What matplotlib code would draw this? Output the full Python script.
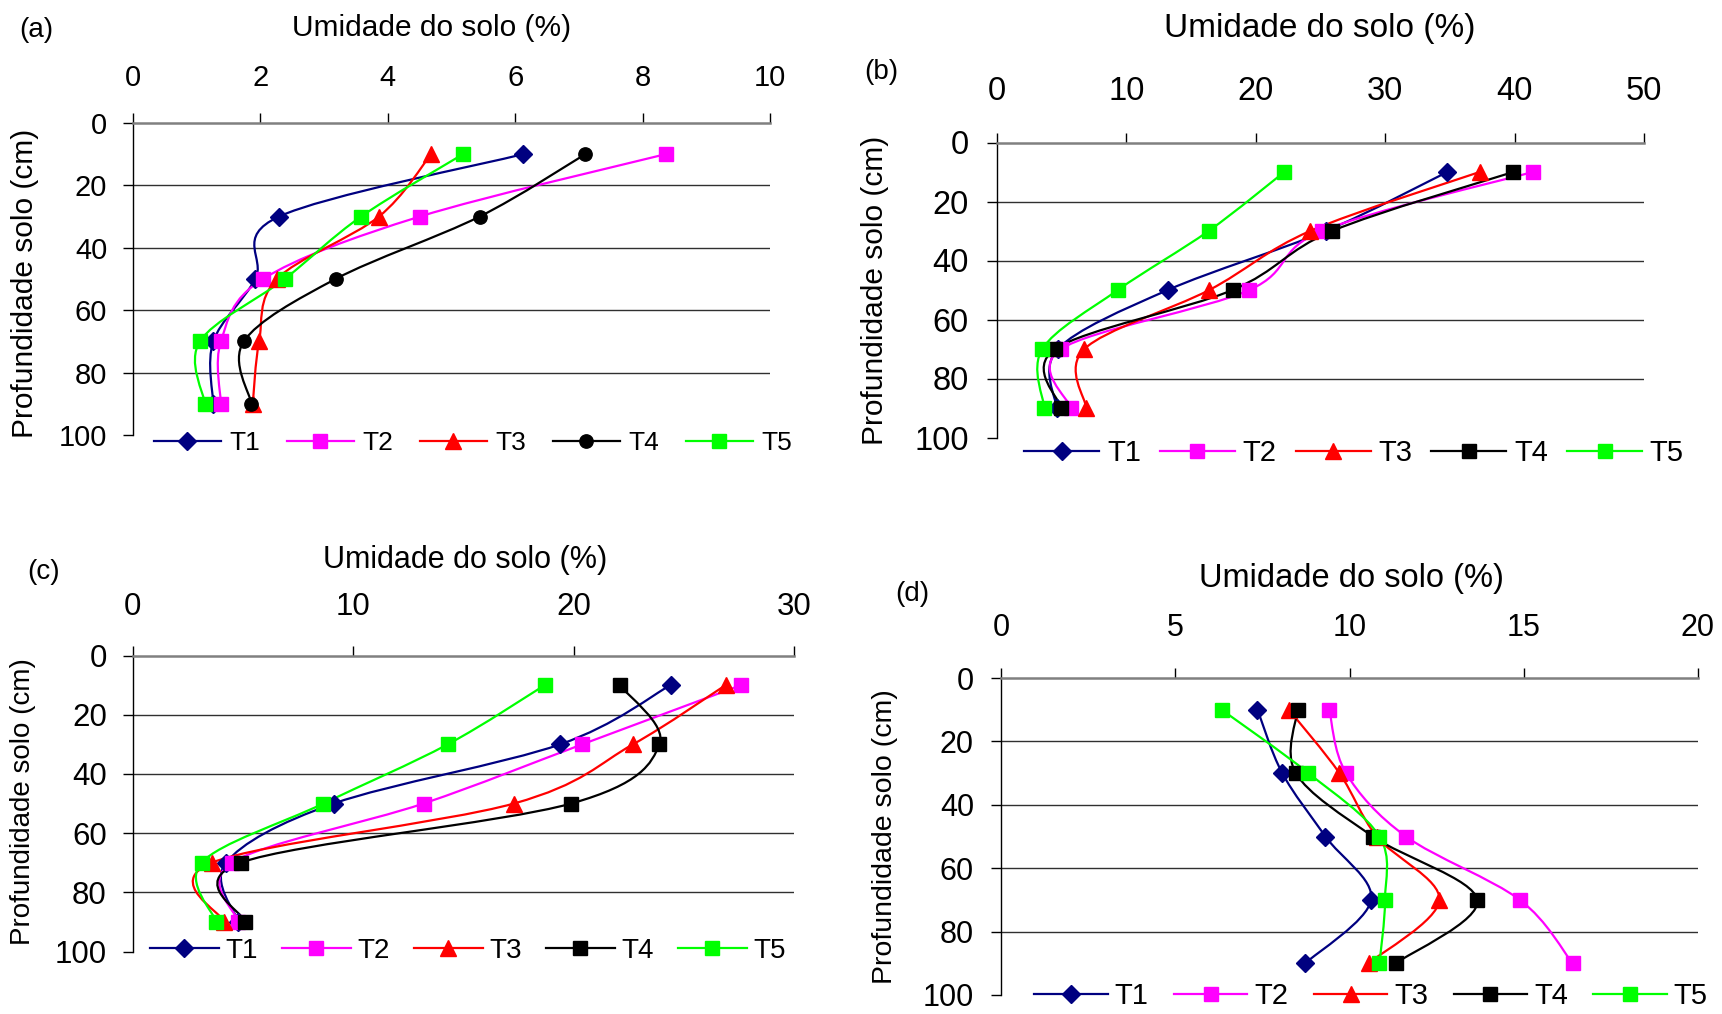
import numpy as np
import matplotlib
matplotlib.use('Agg')
import matplotlib.pyplot as plt
from matplotlib.path import Path
from matplotlib.patches import PathPatch
from matplotlib.lines import Line2D

plt.rcParams['font.family'] = ['Liberation Sans', 'DejaVu Sans']

W, H = 1722, 1014

depth = [10, 30, 50, 70, 90]
series_names = ['T1', 'T2', 'T3', 'T4', 'T5']

# soil moisture (%) per treatment, panel (a)
a_t1 = [6.12, 2.29, 1.92, 1.26, 1.26]
a_t2 = [8.36, 4.50, 2.04, 1.38, 1.38]
a_t3 = [4.68, 3.86, 2.26, 1.98, 1.88]
a_t4 = [7.10, 5.44, 3.18, 1.74, 1.86]
a_t5 = [5.18, 3.58, 2.38, 1.05, 1.13]

# panel (b)
b_t1 = [34.8, 25.4, 13.2, 4.7, 4.6]
b_t2 = [41.4, 25.1, 19.5, 4.95, 5.7]
b_t3 = [37.3, 24.2, 16.4, 6.75, 6.9]
b_t4 = [39.9, 25.9, 18.2, 4.5, 4.95]
b_t5 = [22.2, 16.35, 9.34, 3.5, 3.66]

# panel (c)
c_t1 = [24.4, 19.4, 9.13, 4.24, 4.8]
c_t2 = [27.6, 20.4, 13.2, 4.5, 4.8]
c_t3 = [26.9, 22.7, 17.3, 3.6, 4.15]
c_t4 = [22.1, 23.9, 19.9, 4.9, 5.1]
c_t5 = [18.7, 14.3, 8.66, 3.13, 3.8]

# panel (d)
d_t1 = [7.36, 8.07, 9.31, 10.62, 8.73]
d_t2 = [9.42, 9.90, 11.62, 14.89, 16.40]
d_t3 = [8.26, 9.71, 10.78, 12.58, 10.55]
d_t4 = [8.51, 8.46, 10.67, 13.67, 11.33]
d_t5 = [6.33, 8.82, 10.86, 11.02, 10.86]

a_xticks = [0, 2, 4, 6, 8, 10]
b_xticks = [0, 10, 20, 30, 40, 50]
c_xticks = [0, 10, 20, 30]
d_xticks = [0, 5, 10, 15, 20]
yticks = [0, 20, 40, 60, 80, 100]

colors = ['#000080', '#FF00FF', '#FF0000', '#000000', '#00FF00']


def px_rect(x0, x1, y0, y1):
    return [x0 / W, 1 - y1 / H, (x1 - x0) / W, (y1 - y0) / H]


def fxy(x, y):
    return x / W, 1 - y / H


def smooth_path(xs, ys):
    # Excel style smoothed line: cubic bezier through the points
    pts = np.column_stack([xs, ys]).astype(float)
    n = len(pts)
    verts = [pts[0]]
    codes = [Path.MOVETO]
    for i in range(n - 1):
        p0 = pts[i - 1] if i > 0 else pts[i]
        p1 = pts[i]
        p2 = pts[i + 1]
        p3 = pts[i + 2] if i + 2 < n else pts[i + 1]
        verts += [p1 + (p2 - p0) / 6, p2 - (p3 - p1) / 6, p2]
        codes += [Path.CURVE4] * 3
    return Path(verts, codes)


panels = [
    dict(letter='(a)', data=[a_t1, a_t2, a_t3, a_t4, a_t5], xticks=a_xticks,
         markers=['D', 's', '^', 'o', 's'],
         rect=(133, 770, 123, 435), title_xy=(432, 28), letter_xy=(36, 30), ylab_xy=(25, 283),
         tick_fs=21, title_fs=21.5, ylab_fs=21.5, leg_fs=19, xpad=15, ypad=11,
         leg_xy=(473, 443), leg_hl=2.54, leg_tp=0.33, leg_cs=1.0),
    dict(letter='(b)', data=[b_t1, b_t2, b_t3, b_t4, b_t5], xticks=b_xticks,
         markers=['D', 's', '^', 's', 's'],
         rect=(997, 1644, 142.5, 437.5), title_xy=(1320, 28), letter_xy=(881, 72), ylab_xy=(875, 290),
         tick_fs=23.5, title_fs=24, ylab_fs=21.5, leg_fs=21, xpad=18, ypad=13,
         leg_xy=(1354, 453), leg_hl=2.57, leg_tp=0.27, leg_cs=0.65),
    dict(letter='(c)', data=[c_t1, c_t2, c_t3, c_t4, c_t5], xticks=c_xticks,
         markers=['D', 's', '^', 's', 's'],
         rect=(132.5, 794, 655.5, 951.5), title_xy=(465, 560), letter_xy=(44, 572), ylab_xy=(23, 802),
         tick_fs=22.5, title_fs=22, ylab_fs=20, leg_fs=20, xpad=16.5, ypad=11,
         leg_xy=(468, 951), leg_hl=2.48, leg_tp=0.25, leg_cs=0.85),
    dict(letter='(d)', data=[d_t1, d_t2, d_t3, d_t4, d_t5], xticks=d_xticks,
         markers=['D', 's', '^', 's', 's'],
         rect=(1001, 1698, 678, 995), title_xy=(1351, 579), letter_xy=(912, 594), ylab_xy=(885, 837),
         tick_fs=22, title_fs=23.5, ylab_fs=20.5, leg_fs=21, xpad=17.5, ypad=12,
         leg_xy=(1371, 996), leg_hl=2.52, leg_tp=0.24, leg_cs=0.87),
]

marker_size = {'D': 8.7, 's': 10.5, '^': 12, 'o': 9.6}

fig = plt.figure(figsize=(W / 100, H / 100), dpi=100)

for p in panels:
    ax = fig.add_axes(px_rect(*p['rect']))
    xt = p['xticks']
    ax.set_xlim(xt[0], xt[-1])
    ax.set_ylim(100, 0)
    ax.xaxis.tick_top()
    ax.set_xticks(xt)
    ax.set_yticks(yticks)
    ax.tick_params(axis='x', direction='out', length=7.5, width=1, color='#000000',
                   labelsize=p['tick_fs'], pad=p['xpad'])
    ax.tick_params(axis='y', direction='out', length=7.5, width=1, color='#000000',
                   labelsize=p['tick_fs'], pad=p['ypad'])
    for s in ['bottom', 'right']:
        ax.spines[s].set_visible(False)
    ax.spines['top'].set_color('#808080')
    ax.spines['top'].set_linewidth(1.8)
    ax.spines['left'].set_color('#000000')
    ax.spines['left'].set_linewidth(1)
    for g in yticks[1:-1]:
        ax.axhline(g, color='#303030', lw=1, zorder=1)

    handles = []
    for name, xs, col, mk in zip(series_names, p['data'], colors, p['markers']):
        ax.add_patch(PathPatch(smooth_path(xs, depth), facecolor='none', edgecolor=col,
                               lw=1.6, zorder=3, clip_on=False))
        ms = marker_size[mk]
        ax.plot(xs, depth, ls='none', marker=mk, ms=ms, color=col, mec=col, zorder=4, clip_on=False)
        handles.append(Line2D([], [], color=col, lw=1.6, marker=mk, ms=ms, mec=col, label=name))

    fig.legend(handles=handles, loc='center', bbox_to_anchor=fxy(*p['leg_xy']), ncol=5,
               frameon=False, fontsize=p['leg_fs'], handlelength=p['leg_hl'],
               handletextpad=p['leg_tp'], columnspacing=p['leg_cs'], borderpad=0, borderaxespad=0)

    fig.text(*fxy(*p['title_xy']), 'Umidade do solo (%)', ha='center', va='center', fontsize=p['title_fs'])
    fig.text(*fxy(*p['letter_xy']), p['letter'], ha='center', va='center', fontsize=20)
    fig.text(*fxy(*p['ylab_xy']), 'Profundidade solo (cm)', ha='center', va='center',
             rotation=90, fontsize=p['ylab_fs'])

fig.savefig('out.png', dpi=100)
